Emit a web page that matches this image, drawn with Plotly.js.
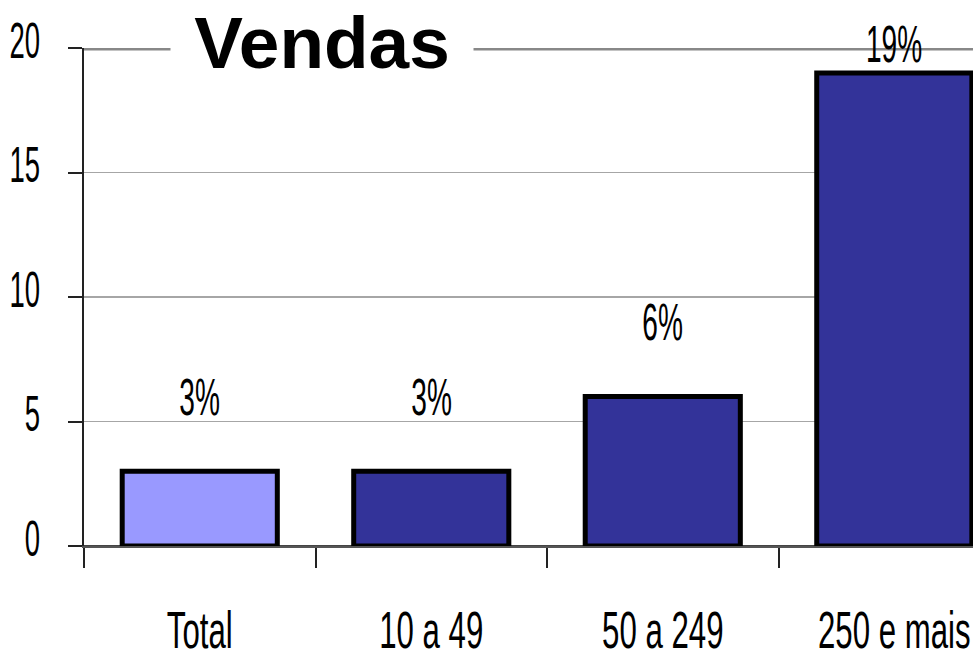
<!DOCTYPE html>
<html>
<head>
<meta charset="utf-8">
<script src="https://cdn.plot.ly/plotly-3.0.1.min.js"></script>
<style>html,body{margin:0;padding:0;background:#fff;}#chart{width:973px;height:655px;}</style>
</head>
<body>
<div id="chart"></div>
<script>
const categories = ["Total", "10 a 49", "50 a 249", "250 e mais"];
const values = [3, 3, 6, 19];
const valueLabels = ["3%", "3%", "6%", "19%"];
const barColors = ["#9999ff", "#333399", "#333399", "#333399"];
const yTicks = [0, 5, 10, 15, 20];
const chartTitle = "Vendas";

const sans = "Liberation Sans, Arial, sans-serif";

const trace = {
  type: "bar",
  x: categories,
  y: values,
  width: 0.67,
  marker: { color: barColors, line: { color: "#000", width: 5 } },
  hoverinfo: "none"
};

const annotations = values.map((v, i) => ({
  x: categories[i], y: Math.min(v + 3, 20), xref: "x", yref: "y",
  yshift: v + 3 > 20 ? 4 : 0,
  text: valueLabels[i], showarrow: false,
  font: { family: sans, size: 52, color: "#000" },
  yanchor: "middle"
}));
annotations.push({
  x: 0.268, y: 1.012, xref: "paper", yref: "paper",
  text: "<b>" + chartTitle + "</b>", showarrow: false,
  font: { family: sans, size: 73, color: "#000" },
  bgcolor: "#ffffff", borderpad: 6, width: 290,
  xanchor: "center", yanchor: "middle"
});

const layout = {
  width: 973, height: 655,
  margin: { l: 84, r: 0, t: 48, b: 109 },
  paper_bgcolor: "#ffffff", plot_bgcolor: "#ffffff",
  showlegend: false,
  xaxis: {
    type: "category",
    range: [-0.5, 3.34],
    tickangle: 0,
    tickson: "boundaries", ticks: "outside", ticklen: 20, tickwidth: 2, tickcolor: "#222",
    ticklabelstandoff: 38,
    ticklabeloverflow: "allow",
    showline: true, linecolor: "#555", linewidth: 2,
    showgrid: false, zeroline: false,
    tickfont: { family: sans, size: 52, color: "#000" }
  },
  yaxis: {
    range: [0, 20],
    tickmode: "array", tickvals: yTicks, ticktext: yTicks.map(String),
    ticks: "outside", ticklen: 14, tickwidth: 2, tickcolor: "#222",
    ticklabelstandoff: 18,
    ticklabelshift: -8,
    showline: true, linecolor: "#222", linewidth: 2,
    showgrid: true, gridcolor: "#a6a6a6", gridwidth: 1.5,
    zeroline: true, zerolinecolor: "#444", zerolinewidth: 3,
    tickfont: { family: sans, size: 50, color: "#000" }
  },
  shapes: [{
    type: "line", xref: "paper", yref: "y", x0: 0, x1: 1, y0: 20, y1: 20,
    line: { color: "#888888", width: 5 }, layer: "above"
  }],
  annotations: annotations
};

function squeeze(el, f) {
  const w = el.getComputedTextLength();
  if (w > 0) {
    el.setAttribute("textLength", (w * f).toFixed(1));
    el.setAttribute("lengthAdjust", "spacingAndGlyphs");
  }
}

Plotly.newPlot("chart", [trace], layout, { displayModeBar: false, staticPlot: true }).then(gd => {
  gd.querySelectorAll(".xtick text").forEach(t => squeeze(t, 0.6));
  gd.querySelectorAll(".ytick text").forEach(t => squeeze(t, 0.55));
  gd.querySelectorAll(".annotation").forEach(a => {
    if (Number(a.getAttribute("data-index")) < values.length) {
      a.querySelectorAll("text.annotation-text").forEach(t => squeeze(t, 0.54));
    }
  });
});
</script>
</body>
</html>
